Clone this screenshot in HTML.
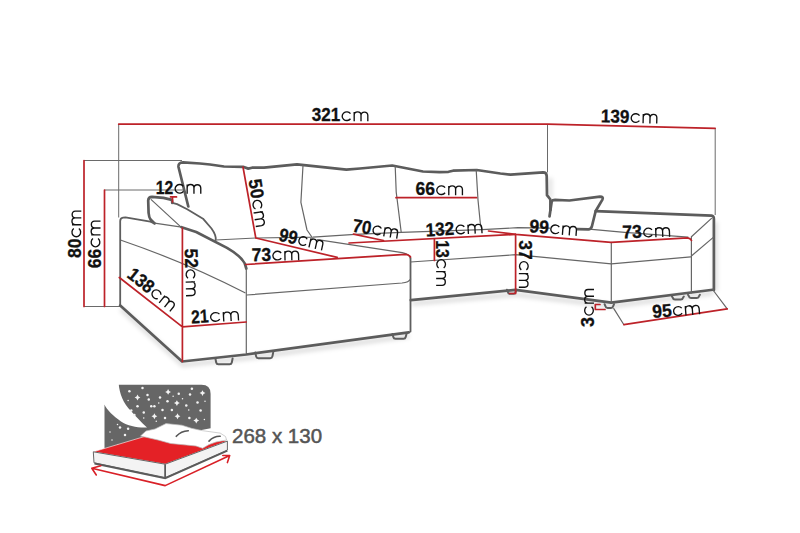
<!DOCTYPE html>
<html><head><meta charset="utf-8">
<style>
html,body{margin:0;padding:0;background:#fff;width:800px;height:533px;overflow:hidden}
svg{display:block}
.k{fill:none;stroke:#5c5c5c;stroke-width:2.7;stroke-linejoin:round;stroke-linecap:round}
.m{fill:none;stroke:#5e5e5e;stroke-width:1.8;stroke-linejoin:round;stroke-linecap:round}
.t{fill:none;stroke:#666;stroke-width:1.2;stroke-linejoin:round;stroke-linecap:round}
.f{fill:none;stroke:#5e5e5e;stroke-width:2;stroke-linejoin:round;stroke-linecap:round}
.e{fill:none;stroke:#6a6a6a;stroke-width:1}
.r{fill:none;stroke:#bd2229;stroke-width:1.7;stroke-linecap:round;stroke-linejoin:round}
text{font-family:"Liberation Sans",sans-serif;fill:#111;font-size:18.5px}
.b{font-weight:bold;stroke:#111;stroke-width:0.3}
.cm{fill:none;stroke:#111;stroke-width:1.35;stroke-linecap:butt}
</style></head><body>
<svg width="800" height="533" viewBox="0 0 800 533">


<defs><filter id="sh" x="-20%" y="-50%" width="140%" height="200%"><feGaussianBlur stdDeviation="2"/></filter></defs>
<g filter="url(#sh)" fill="none" stroke="#000" stroke-opacity="0.13" stroke-width="4.5" stroke-linejoin="round">
<path d="M121,309 L183,365 L247,358 L409,336 M412,303.5 L516,294.5 L612,306 L713,293 M715.5,222 V291"/>
<path d="M550,178 V198" stroke-width="5" stroke-opacity="0.1"/>
</g>
<!-- extension lines -->
<path class="e" d="M118.7,124 V217.5 M84,160.5 H182 M104.5,190 H183 M84,306.5 H120.2 M547.5,124 V172.5 M715.2,128 V215"/>
<!-- backrest -->
<path class="k" d="M188.3,206.5 L178.5,167 Q178,162.5 183,162.3 L200,163.5 L210,164.5 L224,166.5 L243,166.8 L248.25,168.6 L252,167.7 L264,167.7 L297,164.3 L346.4,169.7 L360,168.5 L392.2,165.5 L423,171.5 L439.5,172.2 L448.5,171.8 L453,170.7 L476.75,170 L500.4,173.5 L510.5,174.6 L543.1,172.4 Q546.6,172.5 546.7,176 L547,195.2 L550.4,199.5 L550.4,210"/>
<path class="t" d="M303,165.5 L300.9,202.3 L307,230 L311.5,236.5"/>
<path class="t" d="M395.2,166 L396.2,192 L398.7,212 L401.2,232.3"/>
<path class="t" d="M476.2,170 L478,200 L480.4,224 L482,229.5"/>
<!-- left pillow -->
<path class="k" d="M154.6,223.4 L150.6,219.6 Q149,217.5 148.6,213 L148.2,200.5 Q148.4,197 152,196.9 L163.5,197.9 L171.9,199.9 L172.3,202.8"/>
<path class="m" d="M172.3,202.8 L177.1,204.1 L187.2,209.2 L203,218.7 L211.5,228.5 Q216.5,235.5 215.6,240"/>
<path class="t" d="M151.2,199.6 L180.5,226.6"/>
<!-- left arm -->
<path class="m" d="M120.2,305.5 V221 Q120.3,217.9 123,217.6 L125.5,217.4 L150.3,221.6 L154.6,223.4"/>
<path class="t" d="M154.6,223.2 L181.6,227.2"/>
<path class="k" d="M181.6,227.2 L196.2,232 L227,247.9 Q241,256 244.8,263.5 L246.3,268.5"/>
<path class="t" d="M121.1,240.2 Q185,262 245,292.8"/>
<path class="t" d="M246.3,268 V354.5"/>
<path class="k" d="M120.2,305.5 L182.1,361.5 L246.3,354.5 L408.8,332.3"/>
<!-- seat back line -->
<path class="t" d="M215.6,240 L255.8,238 L312.8,237.2 L355,234.4 L401.2,232.3 L482,229.6 L518,227.7 L549.5,228.2"/>
<path class="t" d="M577.4,229 L591.8,229.4 L624.6,232.3 L688,237.2"/>
<!-- left chaise -->
<path class="t" d="M317.6,239.6 L402.2,252.6 Q409.5,254.2 410.5,258.5"/>
<path class="m" d="M410.5,258 V331.5"/>
<path class="t" d="M246.75,295 L402,283 Q409,282.3 410.6,279"/>
<!-- middle seat -->
<path class="t" d="M410.5,262 L515.6,254.7 L611.3,263.9 L690.8,256.9"/>
<path class="k" d="M410.8,300.2 L515.6,289.8 L611.3,302.7 L712.8,289.75"/>
<!-- right pillow -->
<path class="k" d="M549.5,216.5 L551.7,201.5 Q552.5,199.8 555,199.8 L569.4,200.5 L600,196.6 Q603.8,196.6 602.4,199.6 L595.7,211 L591.8,226.8 Q590.8,229.4 588.5,229.4 L577.4,229.2"/>
<!-- right chaise -->
<path class="k" d="M595.7,211.2 L711.5,215.6 Q713.9,215.9 713.9,219 L713.9,290"/>
<path class="t" d="M711.5,218.4 L691.4,236.75 L691.4,293 M713,237.6 L691.4,256"/>
<path class="t" d="M611.3,242.3 V302.7"/>
<path class="t" d="M613.8,308.6 L623.9,324.7 M712.8,289.75 L727.2,308.9"/>
<!-- feet -->
<path class="f" d="M215.4,358.5 L216.20000000000002,362.5 Q216.6,364.3 218.4,364.3 L229.6,364.3 Q231.4,364.3 231.79999999999998,362.5 L232.6,358.5 M255.3,352.5 L256.1,356.4 Q256.5,358.2 258.3,358.2 L270.2,358.2 Q272.0,358.2 272.4,356.4 L273.2,352.5 M392.5,334 L393.3,337.0 Q393.7,338.8 395.5,338.8 L403.5,338.8 Q405.3,338.8 405.7,337.0 L406.5,334 M507,289.8 L507.8,292.0 Q508.2,293.8 510,293.8 L513.5,293.8 Q515.3,293.8 515.7,292.0 L516.5,289.8 M604.6,304.2 L605.4,306.09999999999997 Q605.8000000000001,307.9 607.6,307.9 L611,307.9 Q612.8,307.9 613.2,306.09999999999997 L614,304.2 M672,296.5 L672.8,297.8 Q673.2,299.6 675,299.6 L680.8,299.6 Q682.5999999999999,299.6 683.0,297.8 L683.8,296.5 M688,294.8 L688.8,296.09999999999997 Q689.2,297.9 691,297.9 L696.9,297.9 Q698.6999999999999,297.9 699.1,296.09999999999997 L699.9,294.8"/>

<!-- ===== red dimension lines ===== -->
<path class="r" d="M118.7,124.2 L547.5,124.2 L715.2,128.3"/>
<path class="r" d="M84,160.5 V306.5 M104.5,190 V306.5"/>
<path class="r" d="M170.5,196.9 H176.5 M172.5,196.9 V202"/>
<path class="r" d="M243,167 L255.8,238 L337.2,257.4"/>
<path class="r" d="M245.6,264.5 L405.5,254.3 Q409,254.4 410.5,257"/>
<path class="r" d="M182.4,228 V361.5 M119.3,277.5 L182.4,326.8 L246.3,322"/>
<path class="r" d="M396,197.7 H476.5"/>
<path class="r" d="M353.5,234.2 L383.5,240.5"/>
<path class="r" d="M349,243 L515.6,234.4"/>
<path class="r" d="M434.4,239.5 V260.5"/>
<path class="r" d="M488.5,231 L515.6,234.3 L611.1,242.3 L687.5,237.8 Q690.5,238.3 691.5,240.5"/>
<path class="r" d="M515.6,234.3 V293.5 H509.5"/>
<path class="r" d="M600,304.5 H595.3 V309.5 H605"/>
<path class="r" d="M623.9,324.7 L727.2,308.9"/>

<!-- ===== labels ===== -->
<g transform="translate(311.80,121.20)"><text class="b" textLength="28.5" lengthAdjust="spacingAndGlyphs">321</text><path class="cm" transform="translate(29.70,0)" d="M8.98,-7.54 A4.59,4.33 0 1 0 8.98,-2.46 M12.69,0 V-9.32 M12.69,-5.92 A3.41,3.41 0 0 1 19.51,-5.92 V0 M19.51,-5.92 A3.41,3.41 0 0 1 26.32,-5.92 V0"/></g>
<g transform="translate(600.70,122.20) rotate(1.4)"><text class="b" textLength="28.5" lengthAdjust="spacingAndGlyphs">139</text><path class="cm" transform="translate(29.70,0)" d="M8.98,-7.54 A4.59,4.33 0 1 0 8.98,-2.46 M12.69,0 V-9.32 M12.69,-5.92 A3.41,3.41 0 0 1 19.51,-5.92 V0 M19.51,-5.92 A3.41,3.41 0 0 1 26.32,-5.92 V0"/></g>
<g transform="translate(155.75,193.85)"><text class="b" textLength="17.5" lengthAdjust="spacingAndGlyphs">12</text><path class="cm" transform="translate(18.70,0)" d="M8.98,-7.54 A4.59,4.33 0 1 0 8.98,-2.46 M12.69,0 V-9.32 M12.69,-5.92 A3.41,3.41 0 0 1 19.51,-5.92 V0 M19.51,-5.92 A3.41,3.41 0 0 1 26.32,-5.92 V0"/></g>
<g transform="translate(415.40,195.20)"><text class="b" textLength="19.5" lengthAdjust="spacingAndGlyphs">66</text><path class="cm" transform="translate(20.70,0)" d="M8.98,-7.54 A4.59,4.33 0 1 0 8.98,-2.46 M12.69,0 V-9.32 M12.69,-5.92 A3.41,3.41 0 0 1 19.51,-5.92 V0 M19.51,-5.92 A3.41,3.41 0 0 1 26.32,-5.92 V0"/></g>
<g transform="translate(248.40,180.05) rotate(81)"><text class="b" textLength="19.5" lengthAdjust="spacingAndGlyphs">50</text><path class="cm" transform="translate(20.70,0)" d="M8.98,-7.54 A4.59,4.33 0 1 0 8.98,-2.46 M12.69,0 V-9.32 M12.69,-5.92 A3.41,3.41 0 0 1 19.51,-5.92 V0 M19.51,-5.92 A3.41,3.41 0 0 1 26.32,-5.92 V0"/></g>
<g transform="translate(278.00,240.50) rotate(12.7)"><text class="b" textLength="18.5" lengthAdjust="spacingAndGlyphs">99</text><path class="cm" transform="translate(19.70,0)" d="M8.45,-7.54 A4.30,4.33 0 1 0 8.45,-2.46 M12.02,0 V-9.32 M12.02,-6.12 A3.20,3.20 0 0 1 18.42,-6.12 V0 M18.42,-6.12 A3.20,3.20 0 0 1 24.82,-6.12 V0"/></g>
<g transform="translate(251.65,261.15) rotate(-1.2)"><text class="b" textLength="19.5" lengthAdjust="spacingAndGlyphs">73</text><path class="cm" transform="translate(20.70,0)" d="M8.98,-7.54 A4.59,4.33 0 1 0 8.98,-2.46 M12.69,0 V-9.32 M12.69,-5.92 A3.41,3.41 0 0 1 19.51,-5.92 V0 M19.51,-5.92 A3.41,3.41 0 0 1 26.32,-5.92 V0"/></g>
<g transform="translate(351.70,231.40) rotate(9)"><text class="b" textLength="19" lengthAdjust="spacingAndGlyphs">70</text><path class="cm" transform="translate(20.20,0)" d="M8.63,-7.54 A4.40,4.33 0 1 0 8.63,-2.46 M12.25,0 V-9.32 M12.25,-6.05 A3.27,3.27 0 0 1 18.79,-6.05 V0 M18.79,-6.05 A3.27,3.27 0 0 1 25.32,-6.05 V0"/></g>
<g transform="translate(426.10,236.40) rotate(-3.2)"><text class="b" textLength="28.5" lengthAdjust="spacingAndGlyphs">132</text><path class="cm" transform="translate(29.70,0)" d="M8.98,-7.54 A4.59,4.33 0 1 0 8.98,-2.46 M12.69,0 V-9.32 M12.69,-5.92 A3.41,3.41 0 0 1 19.51,-5.92 V0 M19.51,-5.92 A3.41,3.41 0 0 1 26.32,-5.92 V0"/></g>
<g transform="translate(436.15,240.30) rotate(90)"><text class="b" textLength="17.5" lengthAdjust="spacingAndGlyphs">13</text><path class="cm" transform="translate(18.70,0)" d="M8.98,-7.54 A4.59,4.33 0 1 0 8.98,-2.46 M12.69,0 V-9.32 M12.69,-5.92 A3.41,3.41 0 0 1 19.51,-5.92 V0 M19.51,-5.92 A3.41,3.41 0 0 1 26.32,-5.92 V0"/></g>
<g transform="translate(518.85,240.20) rotate(90)"><text class="b" textLength="19.5" lengthAdjust="spacingAndGlyphs">37</text><path class="cm" transform="translate(20.70,0)" d="M8.98,-7.54 A4.59,4.33 0 1 0 8.98,-2.46 M12.69,0 V-9.32 M12.69,-5.92 A3.41,3.41 0 0 1 19.51,-5.92 V0 M19.51,-5.92 A3.41,3.41 0 0 1 26.32,-5.92 V0"/></g>
<g transform="translate(529.10,232.30) rotate(4.4)"><text class="b" textLength="19.5" lengthAdjust="spacingAndGlyphs">99</text><path class="cm" transform="translate(20.70,0)" d="M8.98,-7.54 A4.59,4.33 0 1 0 8.98,-2.46 M12.69,0 V-9.32 M12.69,-5.92 A3.41,3.41 0 0 1 19.51,-5.92 V0 M19.51,-5.92 A3.41,3.41 0 0 1 26.32,-5.92 V0"/></g>
<g transform="translate(622.60,238.40) rotate(-2)"><text class="b" textLength="19.5" lengthAdjust="spacingAndGlyphs">73</text><path class="cm" transform="translate(20.70,0)" d="M8.98,-7.54 A4.59,4.33 0 1 0 8.98,-2.46 M12.69,0 V-9.32 M12.69,-5.92 A3.41,3.41 0 0 1 19.51,-5.92 V0 M19.51,-5.92 A3.41,3.41 0 0 1 26.32,-5.92 V0"/></g>
<g transform="translate(594.00,327.00) rotate(-90)"><text class="b" textLength="10" lengthAdjust="spacingAndGlyphs">3</text><path class="cm" transform="translate(11.20,0)" d="M8.98,-7.54 A4.59,4.33 0 1 0 8.98,-2.46 M12.69,0 V-9.32 M12.69,-5.92 A3.41,3.41 0 0 1 19.51,-5.92 V0 M19.51,-5.92 A3.41,3.41 0 0 1 26.32,-5.92 V0"/></g>
<g transform="translate(652.70,318.00) rotate(-4.5)"><text class="b" textLength="19.5" lengthAdjust="spacingAndGlyphs">95</text><path class="cm" transform="translate(20.70,0)" d="M8.98,-7.54 A4.59,4.33 0 1 0 8.98,-2.46 M12.69,0 V-9.32 M12.69,-5.92 A3.41,3.41 0 0 1 19.51,-5.92 V0 M19.51,-5.92 A3.41,3.41 0 0 1 26.32,-5.92 V0"/></g>
<g transform="translate(81.30,258.10) rotate(-90)"><text class="b" textLength="19.5" lengthAdjust="spacingAndGlyphs">80</text><path class="cm" transform="translate(20.70,0)" d="M8.98,-7.54 A4.59,4.33 0 1 0 8.98,-2.46 M12.69,0 V-9.32 M12.69,-5.92 A3.41,3.41 0 0 1 19.51,-5.92 V0 M19.51,-5.92 A3.41,3.41 0 0 1 26.32,-5.92 V0"/></g>
<g transform="translate(100.50,268.20) rotate(-90)"><text class="b" textLength="19.5" lengthAdjust="spacingAndGlyphs">66</text><path class="cm" transform="translate(20.70,0)" d="M8.98,-7.54 A4.59,4.33 0 1 0 8.98,-2.46 M12.69,0 V-9.32 M12.69,-5.92 A3.41,3.41 0 0 1 19.51,-5.92 V0 M19.51,-5.92 A3.41,3.41 0 0 1 26.32,-5.92 V0"/></g>
<g transform="translate(184.80,248.70) rotate(88.5)"><text class="b" textLength="19.5" lengthAdjust="spacingAndGlyphs">52</text><path class="cm" transform="translate(20.70,0)" d="M8.98,-7.54 A4.59,4.33 0 1 0 8.98,-2.46 M12.69,0 V-9.32 M12.69,-5.92 A3.41,3.41 0 0 1 19.51,-5.92 V0 M19.51,-5.92 A3.41,3.41 0 0 1 26.32,-5.92 V0"/></g>
<g transform="translate(126.00,276.50) rotate(38.5)"><text class="b" textLength="28.5" lengthAdjust="spacingAndGlyphs">138</text><path class="cm" transform="translate(29.70,0)" d="M8.98,-7.54 A4.59,4.33 0 1 0 8.98,-2.46 M12.69,0 V-9.32 M12.69,-5.92 A3.41,3.41 0 0 1 19.51,-5.92 V0 M19.51,-5.92 A3.41,3.41 0 0 1 26.32,-5.92 V0"/></g>
<g transform="translate(191.60,323.40) rotate(-3.5)"><text class="b" textLength="17.5" lengthAdjust="spacingAndGlyphs">21</text><path class="cm" transform="translate(18.70,0)" d="M9.68,-7.54 A4.98,4.33 0 1 0 9.68,-2.46 M13.58,0 V-9.32 M13.58,-5.64 A3.69,3.69 0 0 1 20.95,-5.64 V0 M20.95,-5.64 A3.69,3.69 0 0 1 28.32,-5.64 V0"/></g>

<!-- ===== bed icon ===== -->
<path d="M118.7,384.7 L201.5,384.7 Q210.6,384.7 210.6,393.8 L210.6,428.2 L150,440 L104.5,458 L104.5,404.8 Z" fill="#666"/>
<path d="M100,380 L118.7,384.2 C119.5,393 123,403 131,411 C136,416.5 141,422 147,427.5 C138,428 128,426 121,421.5 C113,416 107,410 104.5,404.8 L100,404 Z" fill="#fff"/>
<g fill="#f4f4f4"><circle cx="129.4" cy="391.25" r="1.25"/><circle cx="142.5" cy="388.1" r="1.25"/><circle cx="147.5" cy="395" r="1.25"/><circle cx="148.75" cy="399.4" r="1.25"/><circle cx="160" cy="397.5" r="1.25"/><circle cx="178.75" cy="393.75" r="1.25"/><circle cx="190" cy="394.4" r="1.25"/><circle cx="191.9" cy="388.75" r="1.25"/><circle cx="167.5" cy="401.25" r="1.25"/><circle cx="197.5" cy="402.5" r="1.25"/><circle cx="186.25" cy="405.6" r="1.25"/><circle cx="137.5" cy="406.25" r="1.25"/><circle cx="151.25" cy="406.25" r="1.25"/><circle cx="154.4" cy="406.25" r="1.25"/><circle cx="162.5" cy="410" r="1.25"/><circle cx="171.9" cy="410" r="1.25"/><circle cx="131.25" cy="410.6" r="1.25"/><circle cx="143.75" cy="412.5" r="1.25"/><circle cx="134.4" cy="415" r="1.25"/><circle cx="200.6" cy="410.6" r="1.25"/><circle cx="165" cy="418.1" r="1.25"/><circle cx="189.4" cy="418.1" r="1.25"/><circle cx="128.1" cy="428.75" r="1.25"/><circle cx="125" cy="435" r="1.25"/><circle cx="120" cy="427.5" r="1.25"/><circle cx="128.1" cy="400.6" r="0.75"/><circle cx="182.5" cy="398.75" r="0.75"/><circle cx="204.4" cy="419.4" r="0.75"/><circle cx="143.75" cy="418.1" r="0.75"/><circle cx="156.25" cy="421.25" r="0.75"/><circle cx="158.75" cy="403.1" r="0.75"/><circle cx="173.1" cy="396.25" r="0.75"/><circle cx="205" cy="401.25" r="0.75"/><circle cx="188.75" cy="410" r="0.75"/><circle cx="117.5" cy="424.4" r="0.75"/><circle cx="112" cy="440" r="0.75"/><circle cx="110" cy="432" r="0.75"/><circle cx="118" cy="445" r="0.75"/><path d="M168.1,389.0 L169.11499999999998,390.885 L171.0,391.9 L169.11499999999998,392.91499999999996 L168.1,394.79999999999995 L167.085,392.91499999999996 L165.2,391.9 L167.085,390.885 Z M137.5,394.6 L138.515,396.485 L140.4,397.5 L138.515,398.515 L137.5,400.4 L136.485,398.515 L134.6,397.5 L136.485,396.485 Z M202.5,390.20000000000005 L203.515,392.08500000000004 L205.4,393.1 L203.515,394.115 L202.5,396.0 L201.485,394.115 L199.6,393.1 L201.485,392.08500000000004 Z M176.9,400.20000000000005 L177.915,402.08500000000004 L179.8,403.1 L177.915,404.115 L176.9,406.0 L175.88500000000002,404.115 L174.0,403.1 L175.88500000000002,402.08500000000004 Z M154.4,413.35 L155.415,415.235 L157.3,416.25 L155.415,417.265 L154.4,419.15 L153.38500000000002,417.265 L151.5,416.25 L153.38500000000002,415.235 Z M177.5,413.35 L178.515,415.235 L180.4,416.25 L178.515,417.265 L177.5,419.15 L176.485,417.265 L174.6,416.25 L176.485,415.235 Z M196.25,417.70000000000005 L197.265,419.58500000000004 L199.15,420.6 L197.265,421.615 L196.25,423.5 L195.235,421.615 L193.35,420.6 L195.235,419.58500000000004 Z"/></g>
<path d="M93.3,451.8 L143.6,436.8 L160,433 L227.4,441.1 L165.2,464.2 Z" fill="#e42126" stroke="#fff" stroke-width="0.6"/>
<path d="M93.3,451.8 L165.2,464.2 L165.2,477.5 L94,462.8 Z" fill="#f3f3f3" stroke="#666" stroke-width="1" stroke-linejoin="round"/>
<path d="M165.2,464.2 L227.4,441.1 L227.4,450 L165.2,477.5 Z" fill="#f3f3f3" stroke="#666" stroke-width="1" stroke-linejoin="round"/>
<path d="M94.5,463.5 L165.2,478.3 L227.4,450.8" fill="none" stroke="#5a5a5a" stroke-width="1.8"/>
<path d="M165.2,464.5 V477.5" stroke="#555" stroke-width="1.4"/>
<path d="M140.5,436 L146,431 L155,429 L166,423.6 L181.9,425.2 L191.5,428.3 L202.6,430.7 L220.2,433.1 L225.5,436.5 L226.6,440 L216,442 L209,444.6 L202.6,448.3 L196,446 L186.7,445.1 L170.7,443.5 L158,440 Z" fill="#fff" stroke="#bbb" stroke-width="0.7" stroke-linejoin="round"/>
<path d="M176.3,436.3 Q181,431 188.3,430.7 M209,441.1 Q214,436 220.2,436.3" fill="none" stroke="#555" stroke-width="1.6" stroke-linecap="round"/>
<path d="M91.8,468.3 L165.2,485.6 L229.7,455.5 M100.8,465.8 L91.8,468.3 L96.3,475 M222.8,455.5 L229.7,455.5 L227.4,462.6" fill="none" stroke="#d92027" stroke-width="1.6" stroke-linecap="round" stroke-linejoin="round"/>
<text x="232" y="442.6" style="font-size:20.5px;fill:#555;stroke:#555;stroke-width:0.5">268 x 130</text>

</svg>
</body></html>
